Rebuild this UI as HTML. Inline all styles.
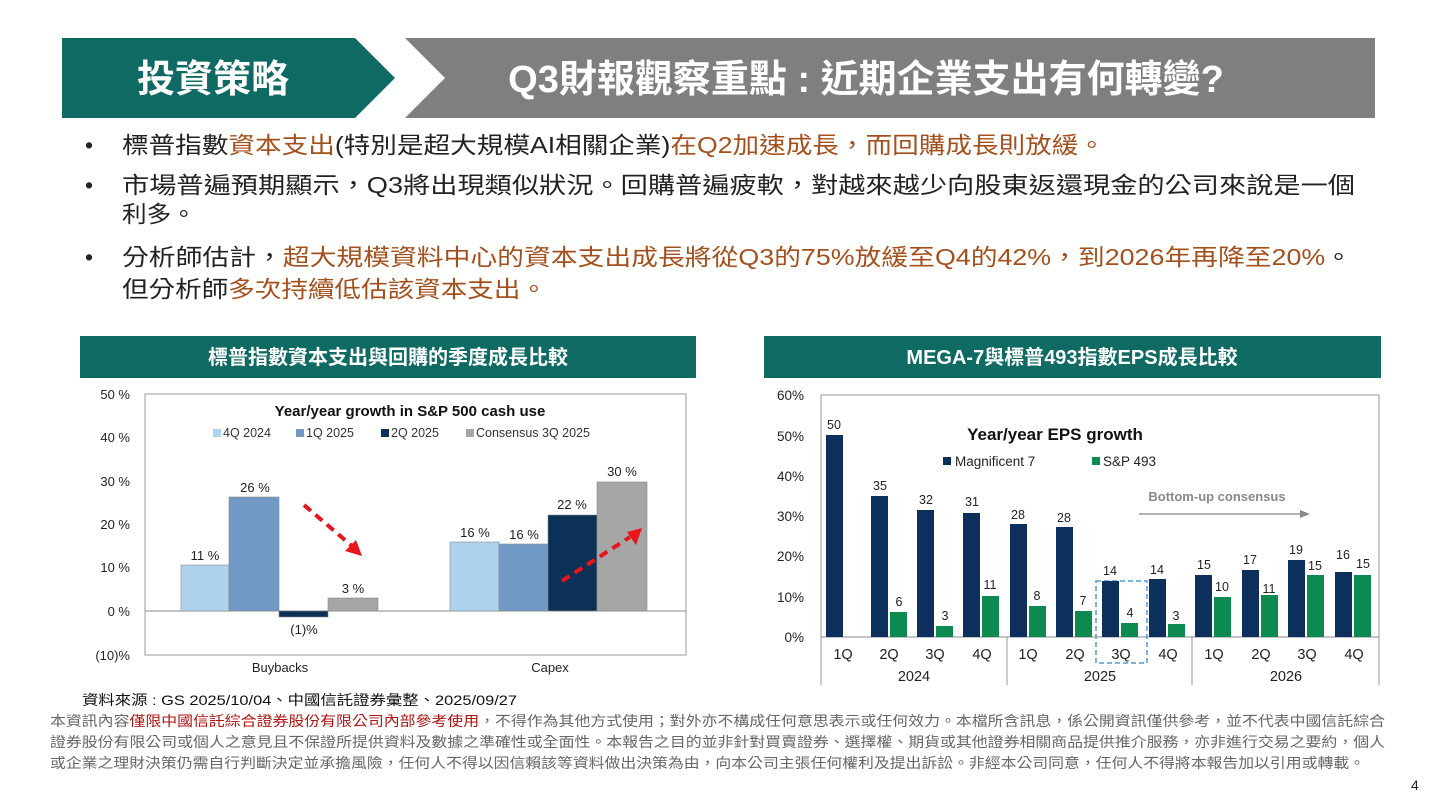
<!DOCTYPE html>
<html><head><meta charset="utf-8"><style>
body{margin:0;width:1429px;height:804px;background:#fff;overflow:hidden;font-family:"Liberation Sans","Noto Sans CJK TC",sans-serif}
svg{position:absolute;left:0;top:0}
</style></head><body>
<svg width="1429" height="804" xmlns="http://www.w3.org/2000/svg" font-family="Liberation Sans, Noto Sans CJK TC, sans-serif">
<!-- header -->
<polygon points="62,38 355,38 395,78 355,118 62,118" fill="#0e6a62"/>
<text x="213" y="92" font-size="38" font-weight="bold" fill="#fff" text-anchor="middle">投資策略</text>
<polygon points="405,38 1375,38 1375,118 405,118 445,78" fill="#7f7f7f"/>
<text x="866" y="92" font-size="38" font-weight="bold" fill="#fff" text-anchor="middle">Q3財報觀察重點 : 近期企業支出有何轉變?</text>
<!-- bullets -->
<g font-size="23" fill="#222">
<text x="85" y="153">•</text><text x="85" y="193">•</text><text x="85" y="265">•</text>
<text x="122" y="153" textLength="983" lengthAdjust="spacingAndGlyphs">標普指數<tspan fill="#a4501c">資本支出</tspan>(特別是超大規模AI相關企業)<tspan fill="#a4501c">在Q2加速成長，而回購成長則放緩。</tspan></text>
<text x="122" y="193" textLength="1233" lengthAdjust="spacingAndGlyphs">市場普遍預期顯示，Q3將出現類似狀況。回購普遍疲軟，對越來越少向股東返還現金的公司來說是一個</text>
<text x="122" y="222" textLength="74" lengthAdjust="spacingAndGlyphs">利多。</text>
<text x="122" y="265" textLength="1230" lengthAdjust="spacingAndGlyphs">分析師估計，<tspan fill="#a4501c">超大規模資料中心的資本支出成長將從Q3的75%放緩至Q4的42%，到2026年再降至20%</tspan>。</text>
<text x="122" y="297" textLength="425" lengthAdjust="spacingAndGlyphs">但分析師<tspan fill="#a4501c">多次持續低估該資本支出。</tspan></text>
</g>
<!-- chart headers -->
<rect x="80" y="336" width="616" height="42" fill="#0e6a62"/>
<text x="388" y="364" font-size="20" font-weight="bold" fill="#fff" text-anchor="middle">標普指數資本支出與回購的季度成長比較</text>
<rect x="764" y="336" width="617" height="42" fill="#0e6a62"/>
<text x="1072" y="364" font-size="20" font-weight="bold" fill="#fff" text-anchor="middle">MEGA-7與標普493指數EPS成長比較</text>

<!-- left chart -->
<rect x="145" y="394" width="541" height="261" fill="none" stroke="#999"/>
<line x1="145" y1="611" x2="686" y2="611" stroke="#888"/>
<g font-size="13" fill="#222" text-anchor="end">
<text x="130" y="399">50 %</text><text x="130" y="442">40 %</text><text x="130" y="486">30 %</text><text x="130" y="529">20 %</text><text x="130" y="572">10 %</text><text x="130" y="616">0 %</text><text x="130" y="660">(10)%</text>
</g>
<text x="410" y="416" font-size="15" font-weight="bold" text-anchor="middle" fill="#111">Year/year growth in S&amp;P 500 cash use</text>
<g font-size="12.5" fill="#333">
<rect x="213" y="429" width="8" height="8" fill="#aed3ef"/><text x="223" y="437">4Q 2024</text>
<rect x="296" y="429" width="8" height="8" fill="#7099c6"/><text x="306" y="437">1Q 2025</text>
<rect x="381" y="429" width="8" height="8" fill="#0b3158"/><text x="391" y="437">2Q 2025</text>
<rect x="466" y="429" width="8" height="8" fill="#a6a6a6"/><text x="476" y="437">Consensus 3Q 2025</text>
</g>
<g stroke="#888" stroke-width="0.6">
<rect x="181" y="565" width="48" height="46" fill="#aed3ef"/>
<rect x="229" y="497" width="50" height="114" fill="#7099c6"/>
<rect x="279" y="611" width="49" height="6" fill="#0b3158"/>
<rect x="328" y="598" width="50" height="13" fill="#a6a6a6"/>
<rect x="450" y="542" width="49" height="69" fill="#aed3ef"/>
<rect x="499" y="544" width="49" height="67" fill="#7099c6"/>
<rect x="548" y="515" width="49" height="96" fill="#0b3158"/>
<rect x="597" y="482" width="50" height="129" fill="#a6a6a6"/>
</g>
<g font-size="13" fill="#222" text-anchor="middle">
<text x="205" y="560">11 %</text><text x="255" y="492">26 %</text><text x="304" y="634">(1)%</text><text x="353" y="593">3 %</text>
<text x="475" y="537">16 %</text><text x="524" y="539">16 %</text><text x="572" y="509">22 %</text><text x="622" y="476">30 %</text>
<text x="280" y="672">Buybacks</text><text x="550" y="672">Capex</text>
</g>
<g stroke="#e8161b" stroke-width="4" stroke-dasharray="9,6">
<line x1="304" y1="505" x2="352" y2="546"/>
<line x1="562" y1="581" x2="630" y2="537"/>
</g>
<polygon points="362,556 345,551 356,540" fill="#e8161b"/>
<polygon points="642,528 636,545 627,532" fill="#e8161b"/>

<!-- right chart -->
<rect x="821" y="395" width="558" height="242" fill="none" stroke="#999"/>
<line x1="821" y1="637" x2="1379" y2="637" stroke="#888"/>
<g stroke="#999"><line x1="821" y1="637" x2="821" y2="685"/><line x1="1007" y1="637" x2="1007" y2="685"/><line x1="1192" y1="637" x2="1192" y2="685"/><line x1="1379" y1="637" x2="1379" y2="685"/></g>
<g font-size="13.5" fill="#222" text-anchor="end">
<text x="804" y="400">60%</text><text x="804" y="441">50%</text><text x="804" y="481">40%</text><text x="804" y="521">30%</text><text x="804" y="561">20%</text><text x="804" y="602">10%</text><text x="804" y="642">0%</text>
</g>
<text x="1055" y="440" font-size="17" font-weight="bold" text-anchor="middle" fill="#111">Year/year EPS growth</text>
<g font-size="13.5" fill="#222">
<rect x="943" y="457" width="8" height="8" fill="#0c2f5c"/><text x="955" y="466">Magnificent 7</text>
<rect x="1092" y="457" width="8" height="8" fill="#0d8a4f"/><text x="1103" y="466">S&amp;P 493</text>
</g>
<text x="1217" y="501" font-size="13" font-weight="bold" fill="#888" text-anchor="middle">Bottom-up consensus</text>
<line x1="1139" y1="514" x2="1303" y2="514" stroke="#888" stroke-width="1.2"/>
<polygon points="1310,514 1300,510 1300,518" fill="#888"/>
<rect x="1096" y="581" width="51" height="82" fill="none" stroke="#4a9bd6" stroke-width="1.5" stroke-dasharray="5,3"/>
<g fill="#0c2f5c">
<rect x="826" y="435" width="17" height="202"/>
<rect x="871" y="496" width="17" height="141"/>
<rect x="917" y="510" width="17" height="127"/>
<rect x="963" y="513" width="17" height="124"/>
<rect x="1010" y="524" width="17" height="113"/>
<rect x="1056" y="527" width="17" height="110"/>
<rect x="1102" y="581" width="17" height="56"/>
<rect x="1149" y="579" width="17" height="58"/>
<rect x="1195" y="575" width="17" height="62"/>
<rect x="1242" y="570" width="17" height="67"/>
<rect x="1288" y="560" width="17" height="77"/>
<rect x="1335" y="572" width="17" height="65"/>
</g>
<g fill="#0d8a4f">
<rect x="890" y="612" width="17" height="25"/>
<rect x="936" y="626" width="17" height="11"/>
<rect x="982" y="596" width="17" height="41"/>
<rect x="1029" y="606" width="17" height="31"/>
<rect x="1075" y="611" width="17" height="26"/>
<rect x="1121" y="623" width="17" height="14"/>
<rect x="1168" y="624" width="17" height="13"/>
<rect x="1214" y="597" width="17" height="40"/>
<rect x="1261" y="595" width="17" height="42"/>
<rect x="1307" y="575" width="17" height="62"/>
<rect x="1354" y="575" width="17" height="62"/>
</g>
<g font-size="12.5" fill="#222" text-anchor="middle">
<text x="834" y="429">50</text><text x="880" y="490">35</text><text x="926" y="504">32</text><text x="972" y="506">31</text><text x="1018" y="519">28</text><text x="1064" y="522">28</text><text x="1110" y="575">14</text><text x="1157" y="574">14</text><text x="1204" y="569">15</text><text x="1250" y="564">17</text><text x="1296" y="554">19</text><text x="1343" y="559">16</text>
<text x="899" y="606">6</text><text x="945" y="620">3</text><text x="990" y="589">11</text><text x="1037" y="600">8</text><text x="1083" y="605">7</text><text x="1130" y="617">4</text><text x="1176" y="620">3</text><text x="1222" y="591">10</text><text x="1269" y="593">11</text><text x="1315" y="570">15</text><text x="1363" y="568">15</text>
</g>
<g font-size="14.5" fill="#222" text-anchor="middle">
<text x="843" y="659">1Q</text><text x="889" y="659">2Q</text><text x="935" y="659">3Q</text><text x="982" y="659">4Q</text>
<text x="1028" y="659">1Q</text><text x="1075" y="659">2Q</text><text x="1121" y="659">3Q</text><text x="1168" y="659">4Q</text>
<text x="1214" y="659">1Q</text><text x="1261" y="659">2Q</text><text x="1307" y="659">3Q</text><text x="1354" y="659">4Q</text>
<text x="914" y="681">2024</text><text x="1100" y="681">2025</text><text x="1286" y="681">2026</text>
</g>

<!-- footer -->
<text x="82" y="705" font-size="14" fill="#111" textLength="435" lengthAdjust="spacingAndGlyphs">資料來源 : GS 2025/10/04、中國信託證券彙整、2025/09/27</text>
<g font-size="14" fill="#666">
<text x="50" y="726" textLength="1335" lengthAdjust="spacingAndGlyphs">本資訊內容<tspan fill="#b01515">僅限中國信託綜合證券股份有限公司內部參考使用</tspan>，不得作為其他方式使用；對外亦不構成任何意思表示或任何效力。本檔所含訊息，係公開資訊僅供參考，並不代表中國信託綜合</text>
<text x="50" y="747" textLength="1335" lengthAdjust="spacingAndGlyphs">證券股份有限公司或個人之意見且不保證所提供資料及數據之準確性或全面性。本報告之目的並非針對買賣證券、選擇權、期貨或其他證券相關商品提供推介服務，亦非進行交易之要約，個人</text>
<text x="50" y="768" textLength="1315" lengthAdjust="spacingAndGlyphs">或企業之理財決策仍需自行判斷決定並承擔風險，任何人不得以因信賴該等資料做出決策為由，向本公司主張任何權利及提出訴訟。非經本公司同意，任何人不得將本報告加以引用或轉載。</text>
</g>
<text x="1411" y="790" font-size="14" fill="#222">4</text>
</svg>
</body></html>
